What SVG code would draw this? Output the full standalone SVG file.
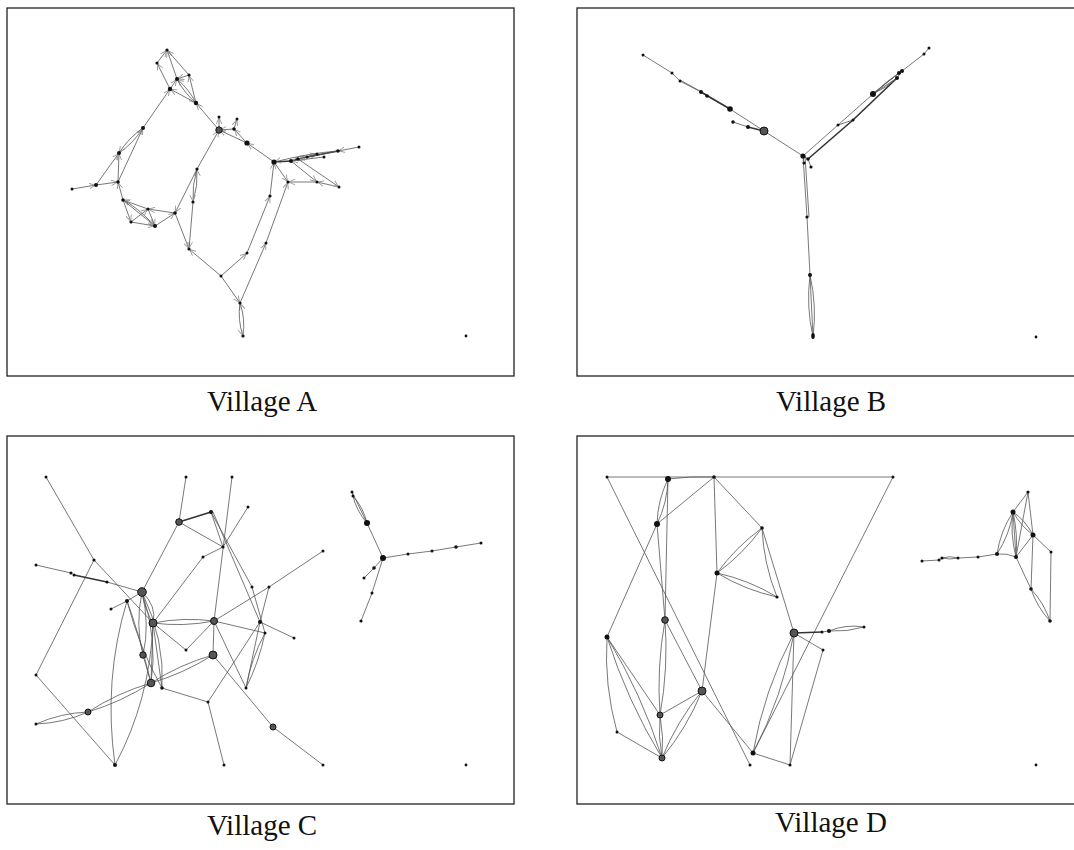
<svg xmlns="http://www.w3.org/2000/svg" width="1074" height="850" viewBox="0 0 1074 850">
<style>
.frame{fill:#fff;stroke:#222;stroke-width:1.3}
.lbl{font-family:"Liberation Serif","Times New Roman",serif;font-size:29px;fill:#111;text-anchor:middle}
.e{fill:none;stroke:#555;stroke-width:0.8}
.t{fill:none;stroke:#333;stroke-width:1.6}
.d{fill:none;stroke:#555;stroke-width:0.8;marker-end:url(#arr)}
.n{fill:#111}
.b{fill:#555;stroke:#111;stroke-width:1}
</style>
<defs>
<marker id="arr" viewBox="0 0 10 10" refX="10" refY="5" markerWidth="7" markerHeight="7" markerUnits="userSpaceOnUse" orient="auto">
<path d="M0,1 L9,5 L0,9" fill="none" stroke="#999" stroke-width="1.3"/>
</marker>
</defs>
<rect width="1074" height="850" fill="#fff"/>

<!-- panel frames -->
<g id="frames">
<rect class="frame" x="7" y="8" width="507" height="368"/>
<rect class="frame" x="577" y="8" width="500" height="368"/>
<rect class="frame" x="7" y="436" width="507" height="368"/>
<rect class="frame" x="577" y="436" width="500" height="368"/>
</g>

<!-- ===== Village A ===== -->
<g id="edges-a">
<line class="d" x1="157" y1="63" x2="167" y2="50"/>
<line class="d" x1="170" y1="89" x2="157" y2="63"/>
<line class="d" x1="177" y1="79" x2="167" y2="50"/>
<line class="d" x1="189" y1="75" x2="167" y2="50"/>
<line class="d" x1="189" y1="75" x2="177" y2="79"/>
<line class="d" x1="196" y1="103" x2="189" y2="75"/>
<path class="d" d="M196 103 Q188.8 89.1 177 79"/>
<path class="d" d="M177 79 Q184.2 92.9 196 103"/>
<line class="d" x1="170" y1="89" x2="177" y2="79"/>
<line class="d" x1="196" y1="103" x2="170" y2="89"/>
<line class="d" x1="143" y1="128" x2="170" y2="89"/>
<line class="d" x1="219" y1="130" x2="196" y2="103"/>
<path class="d" d="M119 153 Q133.5 143 143 128"/>
<path class="d" d="M143 128 Q128.5 138 119 153"/>
<line class="d" x1="118" y1="182" x2="143" y2="128"/>
<line class="d" x1="118" y1="182" x2="119" y2="153"/>
<line class="d" x1="96" y1="185" x2="119" y2="153"/>
<line class="d" x1="72" y1="189" x2="96" y2="185"/>
<line class="d" x1="96" y1="185" x2="118" y2="182"/>
<line class="d" x1="219" y1="130" x2="219" y2="117"/>
<line class="d" x1="234" y1="129" x2="219" y2="130"/>
<line class="d" x1="234" y1="129" x2="237" y2="119"/>
<line class="d" x1="247" y1="143" x2="234" y2="129"/>
<line class="d" x1="247" y1="143" x2="219" y2="130"/>
<line class="d" x1="274" y1="162" x2="247" y2="143"/>
<line class="d" x1="197" y1="169" x2="219" y2="130"/>
<path class="d" d="M193 202 Q198 186 197 169"/>
<path class="d" d="M197 169 Q192 185 193 202"/>
<line class="d" x1="197" y1="169" x2="175" y2="213"/>
<line class="d" x1="175" y1="213" x2="189" y2="249"/>
<line class="d" x1="193" y1="202" x2="189" y2="249"/>
<line class="d" x1="123" y1="200" x2="118" y2="182"/>
<line class="d" x1="148" y1="209" x2="123" y2="200"/>
<line class="d" x1="123" y1="200" x2="131" y2="222"/>
<line class="d" x1="123" y1="200" x2="155" y2="226"/>
<path class="d" d="M155 226 Q136 206 123 200"/>
<line class="d" x1="131" y1="222" x2="155" y2="226"/>
<line class="d" x1="148" y1="209" x2="155" y2="226"/>
<line class="d" x1="131" y1="222" x2="148" y2="209"/>
<line class="d" x1="175" y1="213" x2="148" y2="209"/>
<line class="d" x1="155" y1="226" x2="175" y2="213"/>
<line class="t" x1="274" y1="162" x2="291" y2="161"/>
<line class="t" x1="291" y1="161" x2="298" y2="159"/>
<line class="d" x1="298" y1="159" x2="307" y2="157"/>
<line class="d" x1="298" y1="159" x2="317" y2="154"/>
<line class="t" x1="307" y1="157" x2="338" y2="151"/>
<line class="d" x1="324" y1="157" x2="291" y2="161"/>
<line class="d" x1="338" y1="151" x2="298" y2="159"/>
<path class="d" d="M338 151 Q310 153 274 162"/>
<line class="d" x1="359" y1="147" x2="338" y2="151"/>
<line class="d" x1="274" y1="162" x2="288" y2="182"/>
<line class="d" x1="270" y1="196" x2="274" y2="162"/>
<line class="d" x1="317" y1="182" x2="288" y2="182"/>
<line class="d" x1="339" y1="187" x2="317" y2="182"/>
<line class="d" x1="298" y1="159" x2="339" y2="187"/>
<line class="d" x1="291" y1="161" x2="317" y2="182"/>
<line class="d" x1="247" y1="253" x2="270" y2="196"/>
<line class="d" x1="266" y1="243" x2="288" y2="182"/>
<line class="d" x1="240" y1="303" x2="266" y2="243"/>
<line class="d" x1="221" y1="276" x2="247" y2="253"/>
<line class="d" x1="221" y1="276" x2="189" y2="249"/>
<line class="d" x1="221" y1="276" x2="240" y2="303"/>
<path class="d" d="M243 336 Q245.5 319 240 303"/>
<path class="d" d="M240 303 Q237.5 320 243 336"/>
</g>
<g id="nodes-a">
<g id="a1"><circle class="n" cx="167" cy="50" r="1.6"/></g>
<g id="a2"><circle class="n" cx="157" cy="63" r="1.6"/></g>
<g id="a3"><circle class="n" cx="189" cy="75" r="1.6"/></g>
<g id="a4"><circle class="n" cx="177" cy="79" r="2"/></g>
<g id="a5"><circle class="n" cx="170" cy="89" r="2.2"/></g>
<g id="a6"><circle class="n" cx="196" cy="103" r="2.2"/></g>
<g id="a7"><circle class="n" cx="219" cy="117" r="1.5"/></g>
<g id="a8"><circle class="n" cx="237" cy="119" r="1.5"/></g>
<g id="a9"><circle class="b" cx="219" cy="130" r="3.2"/></g>
<g id="a10"><circle class="n" cx="234" cy="129" r="1.8"/></g>
<g id="a11"><circle class="n" cx="143" cy="128" r="2"/></g>
<g id="a12"><circle class="n" cx="247" cy="143" r="2.6"/></g>
<g id="a13"><circle class="n" cx="119" cy="153" r="2"/></g>
<g id="a14"><circle class="n" cx="274" cy="162" r="2.6"/></g>
<g id="a15"><circle class="n" cx="291" cy="161" r="2"/></g>
<g id="a16"><circle class="n" cx="298" cy="159" r="1.8"/></g>
<g id="a17"><circle class="n" cx="307" cy="157" r="1.5"/></g>
<g id="a18"><circle class="n" cx="317" cy="154" r="1.5"/></g>
<g id="a19"><circle class="n" cx="324" cy="157" r="1.5"/></g>
<g id="a20"><circle class="n" cx="338" cy="151" r="1.8"/></g>
<g id="a21"><circle class="n" cx="359" cy="147" r="1.5"/></g>
<g id="a22"><circle class="n" cx="96" cy="185" r="2"/></g>
<g id="a23"><circle class="n" cx="72" cy="189" r="1.5"/></g>
<g id="a24"><circle class="n" cx="118" cy="182" r="1.8"/></g>
<g id="a25"><circle class="n" cx="197" cy="169" r="1.6"/></g>
<g id="a26"><circle class="n" cx="288" cy="182" r="1.6"/></g>
<g id="a27"><circle class="n" cx="317" cy="182" r="1.5"/></g>
<g id="a28"><circle class="n" cx="339" cy="187" r="1.5"/></g>
<g id="a29"><circle class="n" cx="123" cy="200" r="1.8"/></g>
<g id="a30"><circle class="n" cx="148" cy="209" r="1.6"/></g>
<g id="a31"><circle class="n" cx="175" cy="213" r="1.8"/></g>
<g id="a32"><circle class="n" cx="131" cy="222" r="1.6"/></g>
<g id="a33"><circle class="n" cx="155" cy="226" r="2"/></g>
<g id="a34"><circle class="n" cx="193" cy="202" r="1.6"/></g>
<g id="a35"><circle class="n" cx="270" cy="196" r="1.6"/></g>
<g id="a36"><circle class="n" cx="189" cy="249" r="1.6"/></g>
<g id="a37"><circle class="n" cx="266" cy="243" r="1.5"/></g>
<g id="a38"><circle class="n" cx="247" cy="253" r="1.5"/></g>
<g id="a39"><circle class="n" cx="221" cy="276" r="1.5"/></g>
<g id="a40"><circle class="n" cx="240" cy="303" r="1.6"/></g>
<g id="a41"><circle class="n" cx="243" cy="336" r="1.6"/></g>
<g id="a42"><circle class="n" cx="466" cy="336" r="1.4"/></g>
</g>

<!-- ===== Village B ===== -->
<g id="edges-b">
<polyline class="e" points="643,55 672,73 680,81 701,92 707,96 730,109 764,131 803,156"/>
<line class="e" x1="680" y1="80" x2="707" y2="95"/>
<line class="t" x1="701" y1="92" x2="730" y2="109"/>
<line class="e" x1="733" y1="122" x2="748" y2="127"/>
<line class="t" x1="748" y1="127" x2="764" y2="131"/>
<line class="e" x1="803" y1="156" x2="838" y2="125"/>
<line class="e" x1="838" y1="125" x2="873" y2="94"/>
<line class="e" x1="873" y1="94" x2="897" y2="78"/>
<line class="e" x1="897" y1="78" x2="902" y2="71"/>
<line class="e" x1="902" y1="71" x2="924" y2="54"/>
<line class="e" x1="924" y1="54" x2="929" y2="48"/>
<line class="e" x1="838" y1="125" x2="853" y2="120"/>
<line class="t" x1="808" y1="159" x2="853" y2="120"/>
<line class="t" x1="853" y1="120" x2="897" y2="78"/>
<line class="e" x1="873" y1="94" x2="899" y2="73"/>
<path class="e" d="M873 94 Q888 80 902 71"/>
<path class="e" d="M873 94 Q886 88 897 78"/>
<path class="e" d="M873 94 Q884 84 899 73"/>
<line class="e" x1="803" y1="156" x2="808" y2="159"/>
<line class="e" x1="803" y1="156" x2="804" y2="163"/>
<line class="e" x1="808" y1="159" x2="811" y2="167"/>
<line class="e" x1="803" y1="156" x2="807" y2="217"/>
<line class="e" x1="805" y1="156" x2="809" y2="217"/>
<line class="e" x1="807" y1="217" x2="810" y2="275"/>
<path class="e" d="M810 275 Q817 306 813 337"/>
<path class="e" d="M810 275 Q806 306 813 337"/>
<line class="e" x1="810" y1="275" x2="813" y2="337"/>
</g>
<g id="nodes-b">
<g id="b1"><circle class="n" cx="643" cy="55" r="1.5"/></g>
<g id="b2"><circle class="n" cx="672" cy="73" r="1.5"/></g>
<g id="b3"><circle class="n" cx="680" cy="81" r="1.5"/></g>
<g id="b4"><circle class="n" cx="701" cy="92" r="2"/></g>
<g id="b5"><circle class="n" cx="707" cy="96" r="1.8"/></g>
<g id="b6"><circle class="n" cx="730" cy="109" r="2.8"/></g>
<g id="b7"><circle class="n" cx="733" cy="122" r="1.8"/></g>
<g id="b8"><circle class="n" cx="748" cy="127" r="2"/></g>
<g id="b9"><circle class="b" cx="764" cy="131" r="4"/></g>
<g id="b10"><circle class="n" cx="803" cy="156" r="2.6"/></g>
<g id="b11"><circle class="n" cx="808" cy="159" r="1.8"/></g>
<g id="b12"><circle class="n" cx="804" cy="163" r="1.6"/></g>
<g id="b13"><circle class="n" cx="811" cy="167" r="1.6"/></g>
<g id="b14"><circle class="n" cx="838" cy="125" r="1.5"/></g>
<g id="b15"><circle class="n" cx="853" cy="120" r="1.5"/></g>
<g id="b16"><circle class="n" cx="873" cy="94" r="3"/></g>
<g id="b17"><circle class="n" cx="897" cy="78" r="2"/></g>
<g id="b18"><circle class="n" cx="899" cy="73" r="2"/></g>
<g id="b19"><circle class="n" cx="902" cy="71" r="2"/></g>
<g id="b20"><circle class="n" cx="924" cy="54" r="1.5"/></g>
<g id="b21"><circle class="n" cx="929" cy="48" r="1.5"/></g>
<g id="b22"><circle class="n" cx="807" cy="217" r="1.6"/></g>
<g id="b23"><circle class="n" cx="810" cy="275" r="2"/></g>
<g id="b24"><ellipse class="n" cx="813" cy="336" rx="1.8" ry="3"/></g>
<g id="b25"><circle class="n" cx="1036" cy="337" r="1.4"/></g>
</g>

<!-- ===== Village C ===== -->
<g id="edges-c">
<line class="e" x1="46" y1="477" x2="94" y2="560"/>
<line class="e" x1="94" y1="560" x2="153" y2="623"/>
<line class="e" x1="94" y1="560" x2="36" y2="675"/>
<line class="e" x1="36" y1="675" x2="115" y2="765"/>
<line class="e" x1="36" y1="565" x2="71" y2="573"/>
<line class="t" x1="74" y1="575" x2="107" y2="582"/>
<line class="e" x1="107" y1="582" x2="142" y2="592"/>
<line class="e" x1="186" y1="477" x2="179" y2="522"/>
<line class="t" x1="179" y1="522" x2="211" y2="512"/>
<line class="e" x1="179" y1="522" x2="223" y2="547"/>
<line class="e" x1="179" y1="522" x2="142" y2="592"/>
<line class="e" x1="211" y1="512" x2="223" y2="547"/>
<line class="e" x1="211" y1="512" x2="252" y2="587"/>
<line class="e" x1="213" y1="512" x2="260" y2="622"/>
<line class="e" x1="232" y1="477" x2="214" y2="621"/>
<line class="e" x1="214" y1="621" x2="213" y2="655"/>
<line class="e" x1="248" y1="507" x2="223" y2="547"/>
<line class="e" x1="223" y1="547" x2="203" y2="557"/>
<line class="e" x1="203" y1="557" x2="153" y2="623"/>
<line class="e" x1="252" y1="587" x2="265" y2="633"/>
<line class="e" x1="323" y1="551" x2="269" y2="587"/>
<line class="e" x1="269" y1="587" x2="214" y2="621"/>
<line class="e" x1="269" y1="587" x2="260" y2="622"/>
<line class="e" x1="260" y1="622" x2="294" y2="638"/>
<line class="e" x1="214" y1="621" x2="265" y2="633"/>
<path class="e" d="M153 623 Q183 617 214 621"/>
<path class="e" d="M153 623 Q183 627 214 621"/>
<line class="e" x1="153" y1="623" x2="186" y2="650"/>
<line class="e" x1="186" y1="650" x2="214" y2="621"/>
<path class="e" d="M142 592 Q157 606 153 623"/>
<path class="e" d="M142 592 Q145 610 153 623"/>
<path class="e" d="M142 592 Q135 625 143 655"/>
<path class="e" d="M142 592 Q150 625 143 655"/>
<path class="e" d="M142 592 Q158 640 151 683"/>
<path class="e" d="M142 592 Q165 640 162 688"/>
<path class="e" d="M127 601 Q140 650 162 688"/>
<path class="e" d="M127 601 Q138 630 151 683"/>
<line class="e" x1="127" y1="601" x2="111" y2="609"/>
<line class="e" x1="127" y1="601" x2="142" y2="592"/>
<path class="e" d="M127 601 Q103 680 115 765"/>
<path class="e" d="M153 623 Q150 700 115 765"/>
<line class="e" x1="153" y1="623" x2="151" y2="683"/>
<path class="e" d="M153 623 Q158 660 162 688"/>
<line class="e" x1="143" y1="655" x2="151" y2="683"/>
<path class="e" d="M213 655 Q183.5 673.5 151 683"/>
<path class="e" d="M213 655 Q179.5 664.5 151 683"/>
<path class="e" d="M151 683 Q121 702 88 712"/>
<path class="e" d="M151 683 Q117 693 88 712"/>
<path class="e" d="M88 712 Q63 723 36 724"/>
<path class="e" d="M88 712 Q61 713 36 724"/>
<line class="e" x1="214" y1="621" x2="246" y2="688"/>
<line class="e" x1="246" y1="688" x2="260" y2="622"/>
<path class="e" d="M246 688 Q259 662 265 633"/>
<path class="e" d="M246 688 Q251 659 265 633"/>
<line class="e" x1="162" y1="688" x2="208" y2="702"/>
<line class="e" x1="208" y1="702" x2="260" y2="622"/>
<line class="e" x1="208" y1="702" x2="224" y2="765"/>
<line class="e" x1="213" y1="655" x2="273" y2="727"/>
<line class="e" x1="273" y1="727" x2="323" y2="765"/>
<line class="e" x1="352" y1="492" x2="353" y2="496"/>
<path class="e" d="M353 496 Q363 507 367 523"/>
<path class="e" d="M353 496 Q356 510 367 523"/>
<line class="e" x1="352" y1="492" x2="367" y2="523"/>
<line class="e" x1="367" y1="523" x2="383" y2="558"/>
<polyline class="e" points="383,558 408,554 432,551 456,547 481,543"/>
<polyline class="e" points="383,558 374,568 364,578"/>
<polyline class="e" points="383,558 372,593 361,621"/>
</g>
<g id="nodes-c">
<g id="c1"><circle class="n" cx="46" cy="477" r="1.5"/></g>
<g id="c2"><circle class="n" cx="186" cy="477" r="1.5"/></g>
<g id="c3"><circle class="n" cx="232" cy="477" r="1.5"/></g>
<g id="c4"><circle class="n" cx="248" cy="507" r="1.5"/></g>
<g id="c5"><circle class="n" cx="211" cy="512" r="2"/></g>
<g id="c6"><circle class="b" cx="179" cy="522" r="3.3"/></g>
<g id="c7"><circle class="n" cx="223" cy="547" r="1.6"/></g>
<g id="c8"><circle class="n" cx="203" cy="557" r="1.5"/></g>
<g id="c9"><circle class="n" cx="94" cy="560" r="1.6"/></g>
<g id="c10"><circle class="n" cx="36" cy="565" r="1.5"/></g>
<g id="c11"><circle class="n" cx="71" cy="573" r="1.6"/></g>
<g id="c12"><circle class="n" cx="74" cy="575" r="1.5"/></g>
<g id="c13"><circle class="n" cx="107" cy="582" r="1.6"/></g>
<g id="c14"><circle class="b" cx="142" cy="592" r="4.3"/></g>
<g id="c15"><circle class="n" cx="127" cy="601" r="2"/></g>
<g id="c16"><circle class="n" cx="111" cy="609" r="1.5"/></g>
<g id="c17"><circle class="b" cx="153" cy="623" r="4"/></g>
<g id="c18"><circle class="b" cx="214" cy="621" r="3.5"/></g>
<g id="c19"><circle class="n" cx="252" cy="587" r="1.5"/></g>
<g id="c20"><circle class="n" cx="269" cy="587" r="1.5"/></g>
<g id="c21"><circle class="n" cx="260" cy="622" r="2"/></g>
<g id="c22"><circle class="n" cx="265" cy="633" r="1.5"/></g>
<g id="c23"><circle class="n" cx="294" cy="638" r="1.5"/></g>
<g id="c24"><circle class="n" cx="323" cy="551" r="1.5"/></g>
<g id="c25"><circle class="n" cx="186" cy="650" r="1.5"/></g>
<g id="c26"><circle class="b" cx="143" cy="655" r="3.2"/></g>
<g id="c27"><circle class="b" cx="213" cy="655" r="4"/></g>
<g id="c28"><circle class="b" cx="151" cy="683" r="3.8"/></g>
<g id="c29"><circle class="n" cx="162" cy="688" r="1.8"/></g>
<g id="c30"><circle class="n" cx="208" cy="702" r="1.5"/></g>
<g id="c31"><circle class="n" cx="246" cy="688" r="1.5"/></g>
<g id="c32"><circle class="b" cx="273" cy="727" r="3"/></g>
<g id="c33"><circle class="b" cx="88" cy="712" r="3"/></g>
<g id="c34"><circle class="n" cx="36" cy="724" r="1.5"/></g>
<g id="c35"><circle class="n" cx="36" cy="675" r="1.5"/></g>
<g id="c36"><circle class="n" cx="115" cy="765" r="2"/></g>
<g id="c37"><circle class="n" cx="224" cy="765" r="1.5"/></g>
<g id="c38"><circle class="n" cx="323" cy="765" r="1.5"/></g>
<g id="c39"><circle class="n" cx="352" cy="492" r="1.5"/></g>
<g id="c40"><circle class="n" cx="353" cy="496" r="1.5"/></g>
<g id="c41"><circle class="n" cx="367" cy="523" r="3"/></g>
<g id="c42"><circle class="n" cx="383" cy="558" r="3"/></g>
<g id="c43"><circle class="n" cx="408" cy="554" r="1.5"/></g>
<g id="c44"><circle class="n" cx="432" cy="551" r="1.5"/></g>
<g id="c45"><circle class="n" cx="456" cy="547" r="1.8"/></g>
<g id="c46"><circle class="n" cx="481" cy="543" r="1.5"/></g>
<g id="c47"><circle class="n" cx="374" cy="568" r="1.8"/></g>
<g id="c48"><circle class="n" cx="364" cy="578" r="1.5"/></g>
<g id="c49"><circle class="n" cx="372" cy="593" r="1.5"/></g>
<g id="c50"><circle class="n" cx="361" cy="621" r="1.6"/></g>
<g id="c51"><circle class="n" cx="466" cy="765" r="1.4"/></g>
</g>

<!-- ===== Village D ===== -->
<g id="edges-d">
<line class="e" x1="607" y1="477" x2="893" y2="477"/>
<line class="e" x1="607" y1="477" x2="750" y2="765"/>
<line class="e" x1="893" y1="477" x2="753" y2="753"/>
<path class="e" d="M668 479 Q691 476 714 477"/>
<path class="e" d="M668 479 Q667.4 502.7 657 524"/>
<path class="e" d="M668 479 Q657.6 500.3 657 524"/>
<line class="e" x1="668" y1="479" x2="665" y2="620"/>
<line class="e" x1="714" y1="477" x2="657" y2="524"/>
<line class="e" x1="714" y1="477" x2="717" y2="573"/>
<line class="e" x1="714" y1="477" x2="762" y2="528"/>
<line class="e" x1="657" y1="524" x2="607" y2="637"/>
<line class="e" x1="657" y1="524" x2="665" y2="620"/>
<path class="e" d="M762 528 Q743 554 717 573"/>
<path class="e" d="M762 528 Q736 547 717 573"/>
<path class="e" d="M717 573 Q745 590 777 597"/>
<path class="e" d="M717 573 Q749 580 777 597"/>
<path class="e" d="M762 528 Q763.6 563.8 777 597"/>
<line class="e" x1="762" y1="528" x2="794" y2="633"/>
<line class="e" x1="717" y1="573" x2="702" y2="691"/>
<line class="t" x1="794" y1="633" x2="822" y2="632"/>
<line class="e" x1="822" y1="632" x2="829" y2="631"/>
<path class="e" d="M829 631 Q846 624 864 627"/>
<path class="e" d="M829 631 Q847 632 864 627"/>
<line class="e" x1="794" y1="633" x2="823" y2="650"/>
<line class="e" x1="823" y1="650" x2="790" y2="765"/>
<line class="e" x1="794" y1="633" x2="790" y2="765"/>
<path class="e" d="M794 633 Q783 696 753 753"/>
<path class="e" d="M794 633 Q764 690 753 753"/>
<line class="e" x1="753" y1="753" x2="790" y2="765"/>
<path class="e" d="M607 637 Q604 685 617 732"/>
<path class="e" d="M607 637 Q641.8 694.2 662 758"/>
<path class="e" d="M607 637 Q627.2 700.8 662 758"/>
<line class="e" x1="607" y1="637" x2="660" y2="715"/>
<line class="e" x1="617" y1="732" x2="662" y2="758"/>
<path class="e" d="M665 620 Q668.5 668 660 715"/>
<path class="e" d="M665 620 Q656.5 667 660 715"/>
<line class="e" x1="665" y1="620" x2="702" y2="691"/>
<line class="e" x1="660" y1="715" x2="702" y2="691"/>
<path class="e" d="M702 691 Q687 727.6 662 758"/>
<path class="e" d="M702 691 Q676.8 721.4 662 758"/>
<path class="e" d="M660 715 Q664 737 662 758"/>
<path class="e" d="M660 715 Q658 737 662 758"/>
<line class="e" x1="702" y1="691" x2="753" y2="753"/>
<polyline class="e" points="922,561 939,560 942,558"/>
<path class="e" d="M942 558 Q950 555.5 958 558"/>
<path class="e" d="M942 558 Q950 560 958 558"/>
<polyline class="e" points="958,558 978,557 997,554"/>
<path class="e" d="M997 554 Q1007 553 1016 557"/>
<path class="e" d="M997 554 Q1009.6 534.8 1013 512"/>
<path class="e" d="M997 554 Q1000.4 531.2 1013 512"/>
<line class="e" x1="1013" y1="512" x2="1028" y2="492"/>
<line class="e" x1="1028" y1="492" x2="1016" y2="557"/>
<line class="e" x1="1028" y1="492" x2="1033" y2="535"/>
<path class="e" d="M1013 512 Q1018 534 1016 557"/>
<path class="e" d="M1013 512 Q1010 534 1016 557"/>
<line class="e" x1="1013" y1="512" x2="1016" y2="557"/>
<path class="e" d="M1013 512 Q1025 520 1033 535"/>
<path class="e" d="M1013 512 Q1021 526 1033 535"/>
<line class="e" x1="1016" y1="557" x2="1033" y2="535"/>
<polyline class="e" points="1033,535 1051,552 1050,621"/>
<line class="e" x1="1033" y1="535" x2="1031" y2="589"/>
<line class="e" x1="1016" y1="557" x2="1031" y2="589"/>
<path class="e" d="M1031 589 Q1044 603 1050 621"/>
<path class="e" d="M1031 589 Q1037 607 1050 621"/>
</g>
<g id="nodes-d">
<g id="d1"><circle class="n" cx="607" cy="477" r="1.5"/></g>
<g id="d2"><circle class="n" cx="668" cy="479" r="3"/></g>
<g id="d3"><circle class="n" cx="714" cy="477" r="1.8"/></g>
<g id="d4"><circle class="n" cx="893" cy="477" r="1.5"/></g>
<g id="d5"><circle class="n" cx="657" cy="524" r="3"/></g>
<g id="d6"><circle class="n" cx="762" cy="528" r="1.8"/></g>
<g id="d7"><circle class="n" cx="717" cy="573" r="2.5"/></g>
<g id="d8"><circle class="n" cx="777" cy="597" r="1.6"/></g>
<g id="d9"><circle class="b" cx="665" cy="620" r="3.3"/></g>
<g id="d10"><circle class="n" cx="607" cy="637" r="2.5"/></g>
<g id="d11"><circle class="b" cx="794" cy="633" r="4"/></g>
<g id="d12"><circle class="n" cx="822" cy="632" r="1.5"/></g>
<g id="d13"><circle class="n" cx="829" cy="631" r="2"/></g>
<g id="d14"><circle class="n" cx="864" cy="627" r="1.5"/></g>
<g id="d15"><circle class="n" cx="823" cy="650" r="1.5"/></g>
<g id="d16"><circle class="b" cx="702" cy="691" r="4"/></g>
<g id="d17"><circle class="b" cx="660" cy="715" r="3"/></g>
<g id="d18"><circle class="n" cx="617" cy="732" r="1.5"/></g>
<g id="d19"><circle class="b" cx="662" cy="758" r="3"/></g>
<g id="d20"><circle class="n" cx="753" cy="753" r="2.5"/></g>
<g id="d21"><circle class="n" cx="750" cy="765" r="1.5"/></g>
<g id="d22"><circle class="n" cx="790" cy="765" r="1.5"/></g>
<g id="d23"><circle class="n" cx="1028" cy="492" r="1.6"/></g>
<g id="d24"><circle class="n" cx="1013" cy="512" r="2.5"/></g>
<g id="d25"><circle class="n" cx="1033" cy="535" r="2.5"/></g>
<g id="d26"><circle class="n" cx="1051" cy="552" r="1.5"/></g>
<g id="d27"><circle class="n" cx="997" cy="554" r="2"/></g>
<g id="d28"><circle class="n" cx="1016" cy="557" r="2"/></g>
<g id="d29"><circle class="n" cx="978" cy="557" r="1.5"/></g>
<g id="d30"><circle class="n" cx="958" cy="558" r="1.5"/></g>
<g id="d31"><circle class="n" cx="942" cy="558" r="1.6"/></g>
<g id="d32"><circle class="n" cx="939" cy="560" r="1.5"/></g>
<g id="d33"><circle class="n" cx="922" cy="561" r="1.5"/></g>
<g id="d34"><circle class="n" cx="1031" cy="589" r="1.8"/></g>
<g id="d35"><circle class="n" cx="1050" cy="621" r="1.8"/></g>
<g id="d36"><circle class="n" cx="1036" cy="765" r="1.4"/></g>
</g>

<!-- panel captions -->
<g id="labels">
<text class="lbl" x="262" y="411">Village A</text>
<text class="lbl" x="831" y="411">Village B</text>
<text class="lbl" x="262" y="835">Village C</text>
<text class="lbl" x="831" y="832">Village D</text>
</g>
</svg>
